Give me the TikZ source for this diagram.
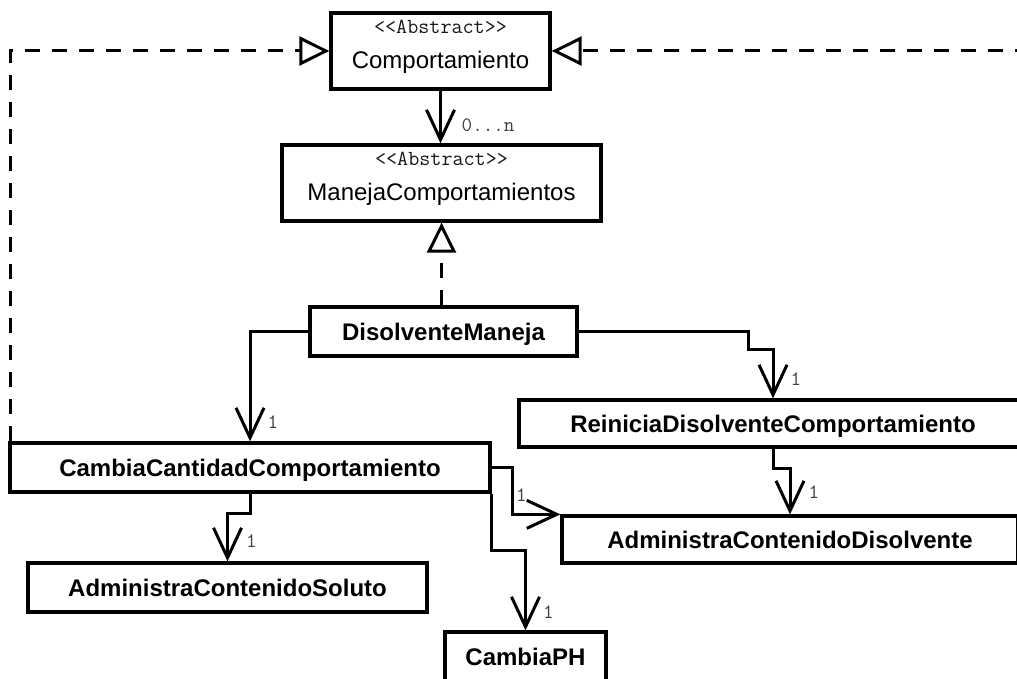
\documentclass[tikz,border=0pt]{standalone}
\usepackage{fontspec}
\setmainfont{Liberation Sans}
\usetikzlibrary{arrows.meta}
\begin{document}
\begin{tikzpicture}[x=1pt,y=-1pt,
  classbox/.style={draw, line width=3.3pt, rectangle, inner sep=0pt,
    font=\fontsize{24}{28}\selectfont\bfseries, text height=17pt, text depth=0pt},
  absname/.style={inner sep=0pt, font=\fontsize{24}{28}\selectfont,
    text height=17pt, text depth=0pt},
  stereo/.style={inner sep=0pt, text=black!90,
    font=\fontsize{21.5}{24}\selectfont\ttfamily, text height=12pt, text depth=0pt},
  mult/.style={inner sep=0pt, text=black!75,
    font=\fontsize{20.5}{24}\selectfont\ttfamily, text height=12pt, text depth=0pt},
  assoc/.style={line width=3pt,
    -{Straight Barb[length=30pt,width=28pt,line cap=butt,line join=miter]}},
  realize/.style={line width=3pt, dash pattern=on 15pt off 12pt,
    -{Triangle[open,length=30pt,width=29pt,line join=miter]}}
]
\useasboundingbox (0,0) rectangle (1017,679);
\fill[white] (0,0) rectangle (1017,679);
\clip (0,0) rectangle (1017,679);

% abstract classes
\node[classbox, minimum width=219pt, minimum height=76pt] (comp) at (440.5,51) {};
\node[stereo] (comp-st) at ([yshift=-16pt]comp.north) {<{}<Abstract>{}>};
\node[absname] (comp-nm) at ([yshift=-49pt]comp.north) {Comportamiento};

\node[classbox, minimum width=319pt, minimum height=76pt] (maneja) at (441.5,183) {};
\node[stereo] (maneja-st) at ([yshift=-16pt]maneja.north) {<{}<Abstract>{}>};
\node[absname] (maneja-nm) at ([yshift=-49pt]maneja.north) {ManejaComportamientos};

% concrete classes
\node[classbox, minimum width=267pt, minimum height=49pt] (dism) at (443.5,331.5) {DisolventeManeja};
\node[classbox, minimum width=480pt, minimum height=49pt] (cambia) at (250,467.5) {CambiaCantidadComportamiento};
\node[classbox, minimum width=508pt, minimum height=47pt] (reinicia) at (773,423.5) {ReiniciaDisolventeComportamiento};
\node[classbox, minimum width=456pt, minimum height=47pt] (admdis) at (790,539.5) {AdministraContenidoDisolvente};
\node[classbox, minimum width=399pt, minimum height=49pt] (admsol) at (227.5,587.5) {AdministraContenidoSoluto};
\node[classbox, minimum width=161pt, minimum height=50pt] (cambiaph) at (525.5,657) {CambiaPH};

% realizations of Comportamiento
\draw[realize] ([xshift=2pt]cambia.north west) |- (comp.west);
\coordinate (farright) at (1030,51);
\draw[realize] (farright) -- (comp.east);

% realization of ManejaComportamientos
\draw[realize] (maneja.south |- dism.north) -- (maneja.south);

% associations
\draw[assoc] (comp.south) -- (comp.south |- maneja.north);
\node[mult, anchor=west] (m0) at ([xshift=20pt,yshift=18pt]maneja.north) {0...n};

\draw[assoc] (dism.west) -| (cambia.north);
\node[mult] (m1) at ([xshift=23pt,yshift=19pt]cambia.north) {1};

\draw[assoc] (dism.east) -| (748,349) -| (reinicia.north);
\node[mult] (m2) at ([xshift=23pt,yshift=19pt]reinicia.north) {1};

\draw[assoc] (reinicia.south) |- (admdis.north |- 0,468) -- (admdis.north);
\node[mult] (m3) at ([xshift=24pt,yshift=22pt]admdis.north) {1};

\draw[assoc] (cambia.south) |- (admsol.north |- 0,513) -- (admsol.north);
\node[mult] (m4) at ([xshift=24pt,yshift=20pt]admsol.north) {1};

\draw[assoc] (cambia.east) -| ([xshift=-48pt]admdis.north west) -- (admdis.north west);
\node[mult] (m5) at ([xshift=-39pt,yshift=19pt]admdis.north west) {1};

\draw[assoc] (cambia.south east) |- (cambiaph.north |- 0,550) -- (cambiaph.north);
\node[mult] (m6) at ([xshift=23pt,yshift=18pt]cambiaph.north) {1};
\end{tikzpicture}
\end{document}
